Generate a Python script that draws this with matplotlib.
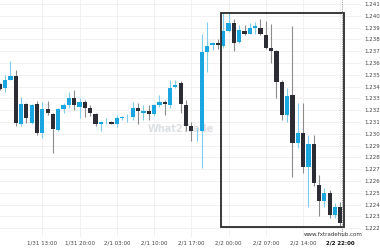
import matplotlib
matplotlib.use("Agg")
import matplotlib.pyplot as plt
from matplotlib.patches import Rectangle

# Hourly candles (index 0..64)
opens = [1.2342, 1.2339, 1.2346, 1.2349, 1.2308, 1.2325, 1.2309, 1.2325, 1.2301, 1.2321,
         1.2317, 1.2303, 1.2321, 1.2324, 1.2330, 1.2323, 1.2327, 1.2322, 1.2317, 1.2308,
         1.2310, 1.2310, 1.2308, 1.2313, 1.2314, 1.2314, 1.2322, 1.2318, 1.2319, 1.2317,
         1.2324, 1.2327, 1.2324, 1.2340, 1.2343, 1.2324, 1.2307, 1.2302, 1.2302, 1.2369,
         1.2375, 1.2377, 1.2374, 1.2387, 1.2394, 1.2378, 1.2387, 1.2385, 1.2390, 1.2390,
         1.2384, 1.2373, 1.2370, 1.2344, 1.2316, 1.2333, 1.2292, 1.2301, 1.2272, 1.2291,
         1.2257, 1.2243, 1.2250, 1.2231, 1.2238]
highs = [1.2343, 1.2350, 1.2362, 1.2354, 1.2331, 1.2326, 1.2325, 1.2328, 1.2327, 1.2328,
         1.2318, 1.2322, 1.2326, 1.2335, 1.2337, 1.2330, 1.2329, 1.2324, 1.2318, 1.2311,
         1.2313, 1.2311, 1.2316, 1.2315, 1.2317, 1.2327, 1.2326, 1.2324, 1.2324, 1.2325,
         1.2333, 1.2329, 1.2346, 1.2346, 1.2345, 1.2329, 1.2310, 1.2305, 1.2385, 1.2395,
         1.2378, 1.2380, 1.2402, 1.2402, 1.2397, 1.2392, 1.2392, 1.2394, 1.2395, 1.2397,
         1.2396, 1.2393, 1.2371, 1.2346, 1.2339, 1.2391, 1.2326, 1.2326, 1.2299, 1.2299,
         1.2265, 1.2254, 1.2252, 1.2241, 1.2242]
lows = [1.2337, 1.2335, 1.2346, 1.2307, 1.2307, 1.2309, 1.2308, 1.2299, 1.2296, 1.2316,
        1.2284, 1.2302, 1.2318, 1.2322, 1.2320, 1.2313, 1.2314, 1.2315, 1.2307, 1.2302,
        1.2308, 1.2308, 1.2306, 1.2312, 1.2310, 1.2312, 1.2308, 1.2312, 1.2312, 1.2315,
        1.2323, 1.2316, 1.2322, 1.2339, 1.2318, 1.2302, 1.2294, 1.2294, 1.2271, 1.2352,
        1.2371, 1.2372, 1.2373, 1.2386, 1.2370, 1.2377, 1.2384, 1.2385, 1.2385, 1.2384,
        1.2372, 1.2360, 1.2330, 1.2312, 1.2310, 1.2263, 1.2288, 1.2267, 1.2238, 1.2256,
        1.2230, 1.2238, 1.2229, 1.2229, 1.2221]
closes = [1.2338, 1.2346, 1.2349, 1.2309, 1.2325, 1.2313, 1.2324, 1.2301, 1.2321, 1.2318,
          1.2304, 1.2321, 1.2324, 1.2330, 1.2324, 1.2327, 1.2322, 1.2318, 1.2308, 1.2310,
          1.2310, 1.2308, 1.2313, 1.2314, 1.2314, 1.2322, 1.2319, 1.2319, 1.2317, 1.2324,
          1.2327, 1.2325, 1.2339, 1.2341, 1.2325, 1.2307, 1.2302, 1.2302, 1.2369, 1.2374,
          1.2377, 1.2375, 1.2387, 1.2394, 1.2377, 1.2388, 1.2385, 1.2390, 1.2391, 1.2385,
          1.2373, 1.2370, 1.2344, 1.2316, 1.2332, 1.2292, 1.2301, 1.2272, 1.2291, 1.2258,
          1.2243, 1.2250, 1.2231, 1.2238, 1.2224]

tick_pos = [8, 15, 22, 29, 36, 43, 50, 57, 64]
tick_labels = ["1/31 13:00", "1/31 20:00", "2/1 03:00", "2/1 10:00", "2/1 17:00",
               "2/2 00:00", "2/2 07:00", "2/2 14:00", "2/2 22:00"]
y_ticks = [round(1.222 + 0.001 * k, 3) for k in range(20)]
box_start = 42  # first candle of the highlighted range

BULL = "#1aa6e0"
BULL_WICK = "#7fcdee"
BEAR = "#2c2c34"
BEAR_WICK = "#8c8c8c"

fig = plt.figure(figsize=(3.8, 2.5), dpi=100)
ax = fig.add_axes([0.0, 0.052, 0.953, 0.948])

n = len(opens)
xs = list(range(n))
for i in xs:
    o, h, l, c = opens[i], highs[i], lows[i], closes[i]
    up = c >= o
    ax.vlines(i, l, h, color=BULL_WICK if up else BEAR_WICK, lw=0.8, zorder=2)
    bottom = min(o, c)
    height = max(abs(c - o), 0.00003)
    ax.bar(i, height, bottom=bottom, width=0.8, color=BULL if up else BEAR,
           lw=0, zorder=3)

# highlighted rectangle around the last range
bh = max(highs[box_start:])
bl = min(lows[box_start:])
ax.add_patch(Rectangle((box_start - 0.45, bl), (n - 1) - box_start + 1.15, bh - bl,
                       fill=False, ec="#2a2a2a", lw=1.3, zorder=4))
# crosshair on last candle
ax.axvline(n - 1 + 0.3, color="#777777", lw=0.6, ls=(0, (1, 1.2)), zorder=4)

ax.set_xlim(0.05, 68.1)
ax.set_ylim(1.22125, 1.24134)
ax.set_xticks(tick_pos)
ax.set_xticklabels(tick_labels)
ax.set_yticks(y_ticks)
ax.set_yticklabels([f"{v:.3f}" for v in y_ticks])
ax.yaxis.tick_right()
ax.tick_params(axis="both", length=0, labelsize=4, colors="#444444")
ax.tick_params(axis="y", pad=1.5)
ax.tick_params(axis="x", pad=2.5)
lbls = ax.get_xticklabels()
lbls[-1].set_fontweight("bold")
lbls[-1].set_color("#111111")
ax.grid(True, color="#efefef", lw=0.6, zorder=0)
ax.set_axisbelow(True)
for s in ax.spines.values():
    s.set_visible(False)

# watermark
ax.text(0.5, 0.455, "What2Trade", transform=ax.transAxes, fontsize=7,
        fontweight="bold", color="#dde0e3", ha="center", va="center", zorder=1)

fig.text(0.955, 0.06, "www.fxtradehub.com", fontsize=4, color="#333333",
         ha="right", va="center")

fig.savefig("out.png", dpi=100)
